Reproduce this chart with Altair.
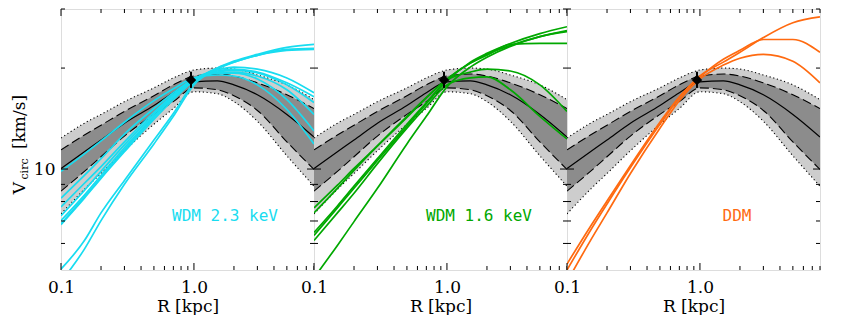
import altair as alt
import pandas as pd

# ---------------- data (R in kpc, V in km/s) ----------------
R = [0.1, 0.15, 0.2, 0.3, 0.5, 0.7, 1.0, 1.5, 2.0, 3.0, 5.0, 8.0]

band_hi2 = [12.37, 13.70, 14.55, 15.88, 17.46, 18.69, 19.73, 20.00, 19.86, 19.07, 17.82, 16.10]
band_hi1 = [11.41, 12.63, 13.51, 14.85, 16.54, 17.82, 18.94, 19.20, 18.94, 18.07, 16.65, 15.15]
band_med = [10.04, 11.26, 12.21, 13.70, 15.46, 16.88, 18.19, 18.31, 17.82, 16.65, 14.55, 12.46]
band_lo1 = [8.59, 9.84, 10.88, 12.54, 14.55, 15.88, 17.46, 17.23, 16.54, 14.95, 12.05, 9.97]
band_lo2 = [7.35, 8.70, 9.70, 11.34, 13.60, 15.15, 17.00, 16.77, 15.88, 13.88, 10.95, 8.89]

wdm23 = {
    "A1": [5.03, 6.12, 7.40, 9.25, 12.21, 14.65, 18.07, 20.00, 20.97, 21.98, 23.05, 23.52],
    "A2": [4.61, 5.77, 7.02, 9.01, 11.88, 14.36, 17.82, 19.86, 20.83, 21.83, 22.74, 22.90],
    "A3": [6.83, 8.19, 9.38, 11.26, 14.07, 16.10, 18.31, 20.00, 20.83, 21.83, 22.59, 22.74],
    "B1": [7.71, 9.07, 10.17, 12.05, 14.75, 16.65, 18.56, 19.60, 19.86, 19.46, 18.07, 16.43],
    "B2": [7.26, 8.64, 9.84, 11.80, 14.55, 16.54, 18.56, 19.73, 20.13, 19.86, 18.69, 16.88],
    "B3": [7.02, 8.36, 9.57, 11.57, 14.36, 16.43, 18.44, 19.46, 19.73, 19.33, 17.82, 15.78],
    "B4": [6.87, 8.25, 9.44, 11.41, 14.26, 16.32, 18.44, 19.33, 19.46, 18.94, 17.23, 14.55],
    "C1": [9.84, 11.10, 12.13, 13.79, 15.99, 17.35, 18.69, 19.07, 18.94, 17.82, 15.05, 11.88],
    "C2": [8.19, 9.57, 10.74, 12.71, 15.15, 16.88, 18.56, 19.33, 19.33, 18.56, 16.10, 12.98],
}
wdm16 = {
    "G1": [6.34, 7.66, 8.76, 10.60, 13.42, 15.67, 18.31, 20.83, 22.13, 23.68, 25.34, 26.56],
    "G2": [6.47, 7.76, 8.89, 10.74, 13.60, 15.78, 18.44, 20.69, 21.98, 23.36, 24.82, 25.86],
    "G3": [4.74, 5.92, 6.97, 8.76, 11.88, 14.36, 17.58, 20.13, 21.54, 23.21, 24.82, 25.68],
    "G4": [7.66, 8.95, 10.04, 11.72, 14.26, 16.32, 18.56, 20.69, 21.83, 23.52, 23.68, 23.68],
    "G5": [7.40, 8.76, 9.91, 11.72, 14.36, 16.32, 18.44, 19.46, 19.86, 19.60, 17.82, 14.85],
    "G6": [6.12, 7.40, 8.47, 10.38, 13.24, 15.36, 17.82, 18.69, 18.82, 17.23, 14.36, 12.29],
}
ddm = {
    "O1": [5.00, 6.56, 7.87, 10.10, 13.60, 16.32, 18.94, 20.83, 22.28, 24.66, 27.30, 28.42],
    "O2": [5.21, 6.74, 8.03, 10.24, 13.79, 16.43, 18.82, 21.25, 22.59, 24.33, 24.33, 22.28],
    "O3": [4.61, 6.12, 7.40, 9.70, 13.24, 15.99, 18.56, 20.41, 21.40, 21.98, 20.97, 18.07],
}

obs_R = [0.95]
obs_V = [18.44]
obs_lo = [17.45]
obs_hi = [19.50]

panel_labels = ["WDM 2.3 keV", "WDM 1.6 keV", "DDM"]
panel_colors = ["#18DCF0", "#00A800", "#FF6A10"]

x_minor = [0.2, 0.3, 0.4, 0.5, 0.6, 0.7, 0.8, 0.9, 2, 3, 4, 5, 6, 7, 8]
x_major = [0.1, 1.0]
y_minor = [6, 7, 8, 9, 20, 30]
y_major = [10]

# ---------------- layout ----------------
W, H = 253, 261
SERIF = "DejaVu Serif"

xs = alt.Scale(type="log", domain=[0.1, 8], nice=False)
ys = alt.Scale(type="log", domain=[5, 30], nice=False)

band_df = pd.DataFrame({"R": R, "hi2": band_hi2, "hi1": band_hi1, "med": band_med,
                        "lo1": band_lo1, "lo2": band_lo2})
obs_df = pd.DataFrame({"R": obs_R, "V": obs_V, "lo": obs_lo, "hi": obs_hi})
one = pd.DataFrame({"a": [0]})


def curves_df(d):
    rows = []
    for k, vals in d.items():
        for r, v in zip(R, vals):
            rows.append({"id": k, "R": r, "V": v})
    return pd.DataFrame(rows)


def panel(curves, color, label, label_x, first):
    X = lambda f: alt.X(f, type="quantitative", scale=xs)
    Y = lambda f: alt.Y(f, type="quantitative", scale=ys)

    if first:
        yaxis = alt.Axis(values=[10], labelExpr="'10'", ticks=False, tickSize=0, domain=False,
                         grid=False, title=None, labelFont=SERIF, labelFontSize=17,
                         labelPadding=6, labelColor="black")
    else:
        yaxis = None
    xaxis = alt.Axis(values=x_major, labelExpr="datum.value < 0.5 ? '0.1' : '1.0'",
                     ticks=False, tickSize=0, domain=False, grid=False,
                     labelFlush=False, labelOverlap=False, labelFont=SERIF,
                     labelFontSize=17, labelPadding=9, labelColor="black",
                     title="R [kpc]", titleFont=SERIF, titleFontSize=17,
                     titleFontWeight="normal", titlePadding=3, titleColor="black")

    base = alt.Chart(band_df)
    outer = base.mark_area(color="#CDCDCD", interpolate="monotone", clip=True).encode(
        x=alt.X("R:Q", scale=xs, axis=xaxis), y=alt.Y("lo2:Q", scale=ys, axis=yaxis), y2="hi2:Q")
    inner = base.mark_area(color="#8C8C8C", interpolate="monotone", clip=True).encode(
        x=X("R"), y=Y("lo1"), y2="hi1:Q")
    dot_lo = base.mark_line(color="black", strokeWidth=1.1, strokeDash=[1.2, 2.6],
                            interpolate="monotone", clip=True).encode(x=X("R"), y=Y("lo2"))
    dot_hi = base.mark_line(color="black", strokeWidth=1.1, strokeDash=[1.2, 2.6],
                            interpolate="monotone", clip=True).encode(x=X("R"), y=Y("hi2"))
    dash_lo = base.mark_line(color="black", strokeWidth=1.1, strokeDash=[9, 4],
                             interpolate="monotone", clip=True).encode(x=X("R"), y=Y("lo1"))
    dash_hi = base.mark_line(color="black", strokeWidth=1.1, strokeDash=[9, 4],
                             interpolate="monotone", clip=True).encode(x=X("R"), y=Y("hi1"))
    med = base.mark_line(color="black", strokeWidth=1.2, interpolate="monotone",
                         clip=True).encode(x=X("R"), y=Y("med"))

    lines = alt.Chart(curves_df(curves)).mark_line(
        color=color, strokeWidth=1.7, interpolate="monotone", clip=True).encode(
        x=X("R"), y=Y("V"), detail="id:N")

    err = alt.Chart(obs_df).mark_rule(color="black", strokeWidth=2).encode(
        x=X("R"), y=Y("lo"), y2="hi:Q")
    pt = alt.Chart(obs_df).mark_point(shape="diamond", filled=True, color="black",
                                      size=110, opacity=1).encode(x=X("R"), y=Y("V"))

    txt = alt.Chart(one).mark_text(font="DejaVu Sans Mono", fontSize=16, color=color,
                                   align="center", baseline="middle").encode(
        x=alt.value(label_x), y=alt.value(207), text=alt.value(label))

    # inward ticks
    tk = []
    xmin_df = pd.DataFrame({"t": x_minor})
    xmaj_df = pd.DataFrame({"t": x_major})
    ymin_df = pd.DataFrame({"t": y_minor})
    ymaj_df = pd.DataFrame({"t": y_major})
    for df_, L in ((xmin_df, 4), (xmaj_df, 7)):
        tk.append(alt.Chart(df_).mark_rule(color="black", strokeWidth=1).encode(
            x=X("t"), y=alt.value(H), y2=alt.value(H - L)))
        tk.append(alt.Chart(df_).mark_rule(color="black", strokeWidth=1).encode(
            x=X("t"), y=alt.value(0), y2=alt.value(L)))
    for df_, L in ((ymin_df, 4), (ymaj_df, 7)):
        tk.append(alt.Chart(df_).mark_rule(color="black", strokeWidth=1).encode(
            y=Y("t"), x=alt.value(0), x2=alt.value(L)))
        tk.append(alt.Chart(df_).mark_rule(color="black", strokeWidth=1).encode(
            y=Y("t"), x=alt.value(W - L), x2=alt.value(W)))

    layers = [outer, inner, dot_lo, dot_hi, dash_lo, dash_hi, med, lines, err, pt, txt] + tk

    if first:
        ylab_v = alt.Chart(one).mark_text(font=SERIF, fontSize=17, angle=270, align="center",
                                          baseline="alphabetic", color="black").encode(
            x=alt.value(-36), y=alt.value(179), text=alt.value("V"))
        ylab_c = alt.Chart(one).mark_text(font=SERIF, fontSize=11, angle=270, align="center",
                                          baseline="alphabetic", color="black").encode(
            x=alt.value(-33), y=alt.value(160), text=alt.value("circ"))
        ylab_u = alt.Chart(one).mark_text(font=SERIF, fontSize=17, angle=270, align="center",
                                          baseline="alphabetic", color="black").encode(
            x=alt.value(-36), y=alt.value(113), text=alt.value("[km/s]"))
        layers += [ylab_v, ylab_c, ylab_u]

    return alt.layer(*layers).properties(width=W, height=H)


p1 = panel(wdm23, panel_colors[0], panel_labels[0], 164, True)
p2 = panel(wdm16, panel_colors[1], panel_labels[1], 165, False)
p3 = panel(ddm, panel_colors[2], panel_labels[2], 170, False)

chart = alt.hconcat(p1, p2, p3, spacing=0, bounds="flush").properties(
    padding={"left": 2, "top": 0, "right": 0, "bottom": 0}
).configure_view(stroke="black", strokeWidth=1.2).configure(background="white")

chart.save("out.html", embed_options={"renderer": "svg", "actions": False})
